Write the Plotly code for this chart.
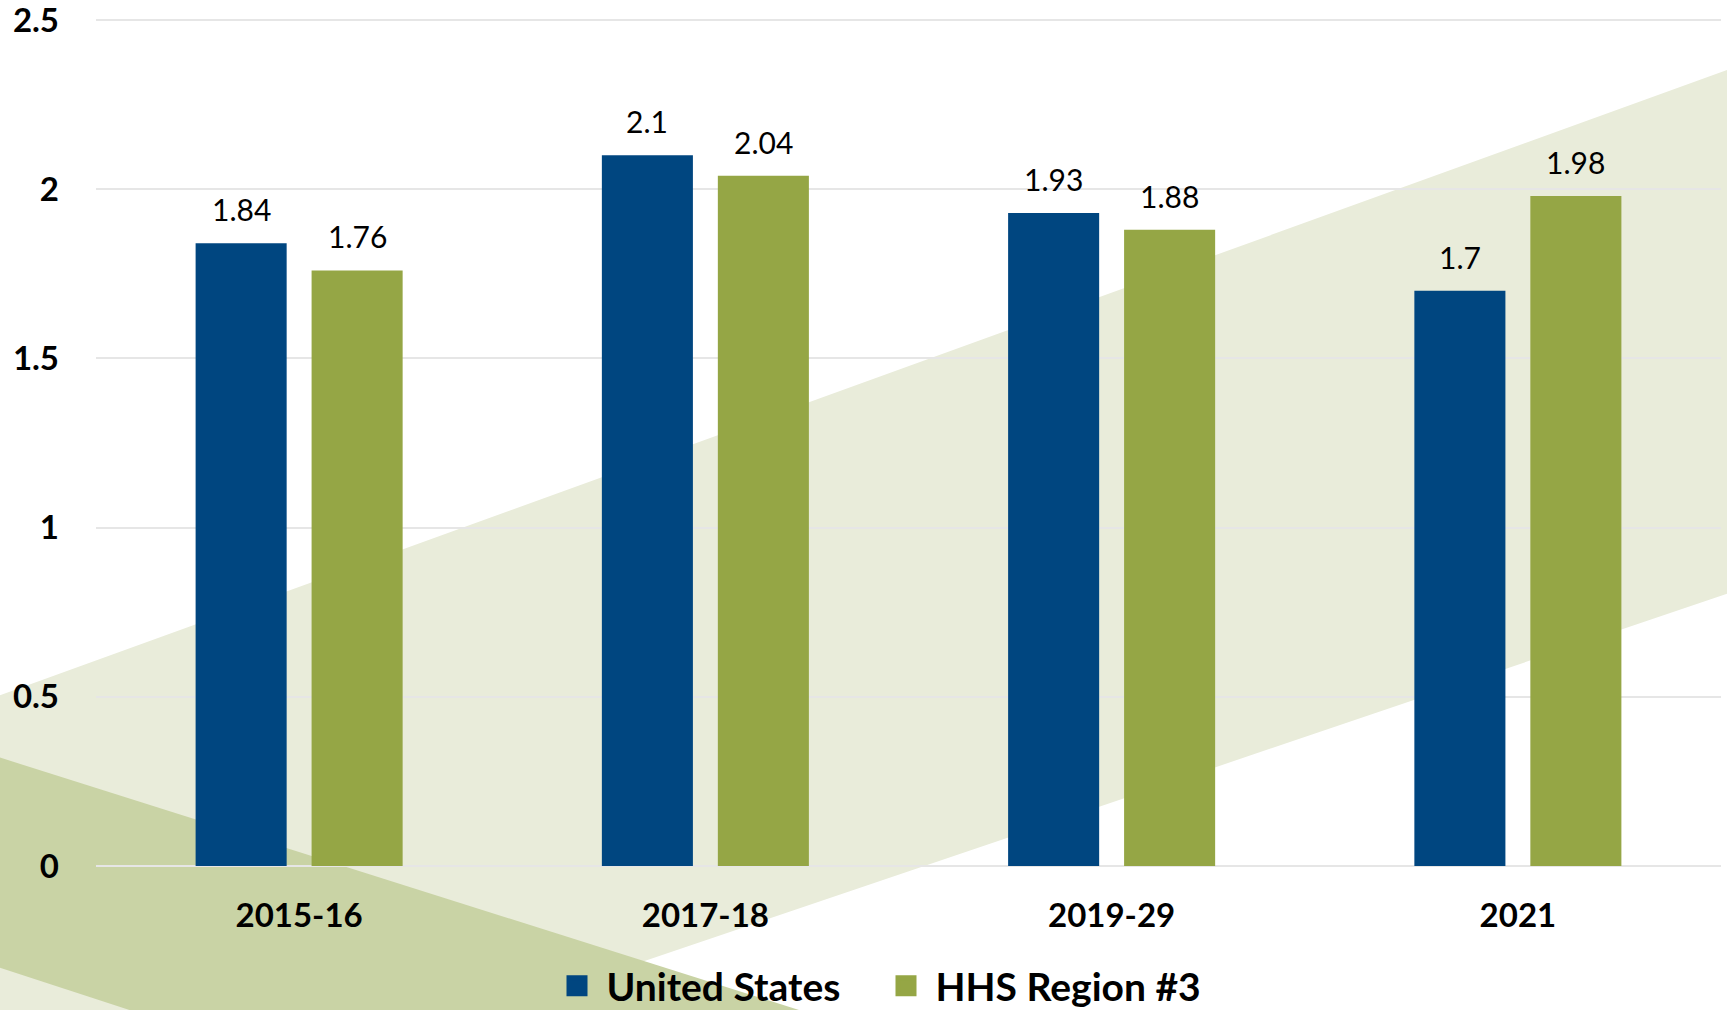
import plotly.graph_objects as go

# ---- data ----
categories = ["2015-16", "2017-18", "2019-29", "2021"]
us_values = [1.84, 2.1, 1.93, 1.7]
hhs_values = [1.76, 2.04, 1.88, 1.98]
series_names = ["United States", "HHS Region #3"]
y_tick_vals = [0, 0.5, 1, 1.5, 2, 2.5]
y_tick_text = ["0", "0.5", "1", "1.5", "2", "2.5"]

# ---- style ----
BLUE = "#004680"
GREEN = "#95A645"
LIGHT_BAND = "#E9ECDA"
DARK_BAND = "#C9D3A5"
GRID = "#E6E6E6"
W, H = 1727, 1010
ML, MR, MT, MB = 96, 6, 19, 144
BARGAP = 0.429
BARGROUPGAP = 0.215
Y_MAX = 2.503

plot_w = W - ML - MR
plot_h = H - MT - MB


def px_to_paper(px, py):
    return (px - ML) / plot_w, (H - MB - py) / plot_h


def poly_path(points):
    pts = [px_to_paper(x, y) for x, y in points]
    return "M " + " L ".join(f"{x:.5f},{y:.5f}" for x, y in pts) + " Z"


# decorative background bands (page pixel geometry)
light_band = [(-5, 697), (1735, 67), (1735, 591), (500, 1010), (480, 1020), (-5, 1020)]
dark_band = [(-5, 756), (799, 1010), (830, 1020), (160, 1020), (-5, 966)]

fig = go.Figure()

fig.add_trace(go.Bar(x=categories, y=us_values, name=series_names[0],
                     marker=dict(color=BLUE, line=dict(width=0)),
                     showlegend=False, legendgroup="us"))
fig.add_trace(go.Bar(x=categories, y=hhs_values, name=series_names[1],
                     marker=dict(color=GREEN, line=dict(width=0)),
                     showlegend=False, legendgroup="hhs"))

# legend entries with larger square swatches
for nm, col, grp in [(series_names[0], BLUE, "us"), (series_names[1], GREEN, "hhs")]:
    fig.add_trace(go.Scatter(x=[None], y=[None], mode="markers", name="\u00a0" + nm,
                             legendgroup=grp,
                             marker=dict(symbol="square", size=16, color=col,
                                         line=dict(color=col, width=5))))

# value labels above bars
half = (1 - BARGAP) / 4
annotations = []
for i, cat in enumerate(categories):
    for val, off in [(us_values[i], -half), (hhs_values[i], half)]:
        annotations.append(dict(
            x=i + off, y=val, xref="x", yref="y", text=f"{val:g}",
            showarrow=False, yanchor="bottom", yshift=14,
            font=dict(family="Lato", size=30, color="#000000")))

fig.update_layout(
    width=W, height=H,
    margin=dict(l=ML, r=MR, t=MT, b=MB, pad=0, autoexpand=False),
    paper_bgcolor="#FFFFFF",
    plot_bgcolor="rgba(0,0,0,0)",
    barmode="group",
    bargap=BARGAP,
    bargroupgap=BARGROUPGAP,
    showlegend=True,
    legend=dict(orientation="h", xref="container", yref="container",
                x=557 / W, xanchor="left", y=(H - 986) / H, yanchor="middle",
                font=dict(family="Lato", size=39, color="#000000", weight="bold"),
                entrywidth=284, entrywidthmode="pixels",
                bgcolor="rgba(0,0,0,0)", borderwidth=0, itemclick=False),
    shapes=[
        dict(type="path", xref="paper", yref="paper", path=poly_path(light_band),
             fillcolor=LIGHT_BAND, line=dict(width=0), layer="below"),
        dict(type="path", xref="paper", yref="paper", path=poly_path(dark_band),
             fillcolor=DARK_BAND, line=dict(width=0), layer="below"),
    ],
    annotations=annotations,
    xaxis=dict(
        type="category", automargin=False,
        showgrid=False, showline=False, zeroline=False, ticks="",
        tickfont=dict(family="Lato", size=33, color="#000000", weight="bold"),
        ticklabelstandoff=27,
    ),
    yaxis=dict(
        range=[0, Y_MAX], automargin=False,
        tickvals=y_tick_vals, ticktext=y_tick_text,
        showgrid=True, gridcolor=GRID, gridwidth=2,
        zeroline=True, zerolinecolor=GRID, zerolinewidth=2,
        showline=False, ticks="", ticklabeloverflow="allow",
        tickfont=dict(family="Lato", size=33, color="#000000", weight="bold"),
        ticklabelstandoff=36,
    ),
)

fig.write_html("out.html")
